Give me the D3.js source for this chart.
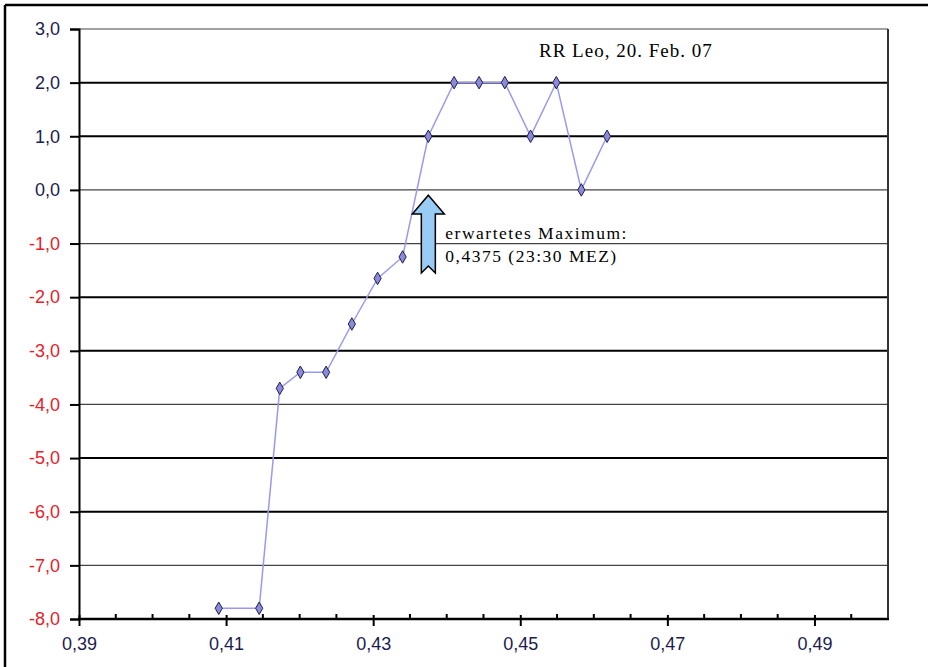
<!DOCTYPE html>
<html>
<head>
<meta charset="utf-8">
<script src="https://cdn.jsdelivr.net/npm/d3@7"></script>
<style>
  html, body { margin: 0; padding: 0; background: #ffffff; }
  svg { display: block; }
</style>
</head>
<body>
<svg id="chart" width="928" height="667"></svg>
<script>
// ---- data ----
const phase = [0.4090, 0.4145, 0.4173, 0.4201, 0.4236, 0.4271, 0.4306, 0.4340, 0.4375, 0.4410, 0.4444, 0.4479, 0.4514, 0.4549, 0.4583, 0.4618];
const magnitude = [-7.8, -7.8, -3.7, -3.4, -3.4, -2.5, -1.65, -1.25, 1.0, 2.0, 2.0, 2.0, 1.0, 2.0, 0.0, 1.0];
const yTicks = [3, 2, 1, 0, -1, -2, -3, -4, -5, -6, -7, -8];
const xMajorTicks = [0.39, 0.41, 0.43, 0.45, 0.47, 0.49];
const xMinorTicks = [0.395, 0.40, 0.405, 0.415, 0.42, 0.425, 0.435, 0.44, 0.445, 0.455, 0.46, 0.465, 0.475, 0.48, 0.485, 0.495];
const chartTitle = "RR Leo, 20. Feb. 07";
const annotationLines = ["erwartetes Maximum:", "0,4375 (23:30 MEZ)"];
const expectedMax = 0.4375;

const svg = d3.select("#chart");
const L = 79, R = 888, T = 29, B = 619;

const x = d3.scaleLinear().domain([0.39, 0.50]).range([L, R]);
const y = d3.scaleLinear().domain([-8, 3]).range([B, T]);
const fmt = (d, n) => d.toFixed(n).replace(".", ",");

// outer frame
svg.append("line").attr("x1", 5).attr("x2", 928).attr("y1", 5).attr("y2", 5)
  .attr("stroke", "#000").attr("stroke-width", 2.5);
svg.append("line").attr("x1", 5).attr("x2", 5).attr("y1", 5).attr("y2", 667)
  .attr("stroke", "#000").attr("stroke-width", 2.5);

// gridlines
const thick = new Set([2, 1, -2, -3, -5, -6]);
svg.append("g").selectAll("line").data(yTicks.filter(d => d > -8)).join("line")
  .attr("x1", L).attr("x2", R)
  .attr("y1", d => y(d)).attr("y2", d => y(d))
  .attr("stroke", d => thick.has(d) ? "#000" : "#444")
  .attr("stroke-width", d => thick.has(d) ? 2 : 1.2);

// right border
svg.append("line").attr("x1", R).attr("x2", R).attr("y1", T).attr("y2", B)
  .attr("stroke", "#333").attr("stroke-width", 2);

// y axis
const yAxis = d3.axisLeft(y).tickValues(yTicks).tickSize(9).tickPadding(10)
  .tickFormat(d => fmt(d, 1));
const gy = svg.append("g").attr("transform", `translate(${L},0)`).call(yAxis);
gy.select(".domain").attr("stroke", "#000").attr("stroke-width", 2);
gy.selectAll(".tick line").attr("stroke", "#000").attr("stroke-width", 2);
gy.selectAll(".tick text")
  .attr("font-family", "Liberation Sans, Arial, sans-serif")
  .attr("font-size", 18)
  .attr("fill", d => d < 0 ? "#e8202a" : "#1c1c50");

// x axis major
const xAxis = d3.axisBottom(x).tickValues(xMajorTicks).tickSize(7).tickPadding(11)
  .tickFormat(d => fmt(d, 2));
const gx = svg.append("g").attr("transform", `translate(0,${B})`).call(xAxis);
gx.select(".domain").remove();
gx.selectAll(".tick line").attr("stroke", "#000").attr("stroke-width", 2).attr("y1", -4);
gx.selectAll(".tick text")
  .attr("font-family", "Liberation Sans, Arial, sans-serif")
  .attr("font-size", 18)
  .attr("fill", "#1c1c50");
// minor ticks (inside)
svg.append("g").selectAll("line").data(xMinorTicks).join("line")
  .attr("x1", d => x(d)).attr("x2", d => x(d))
  .attr("y1", B - 5).attr("y2", B)
  .attr("stroke", "#000").attr("stroke-width", 2);
svg.append("line").attr("x1", L - 1).attr("x2", R + 1).attr("y1", B).attr("y2", B)
  .attr("stroke", "#000").attr("stroke-width", 2.5);

// data line
const pts = phase.map((p, i) => [p, magnitude[i]]);
svg.append("path").datum(pts)
  .attr("fill", "none").attr("stroke", "#9999f0").attr("stroke-width", 1.5)
  .attr("d", d3.line().x(d => x(d[0])).y(d => y(d[1])));

// markers
svg.append("g").selectAll("path").data(pts).join("path")
  .attr("transform", d => `translate(${x(d[0])},${y(d[1])})`)
  .attr("d", d3.symbol(d3.symbolDiamond, 45)())
  .attr("fill", "#8a8ad8").attr("stroke", "#1e1e50").attr("stroke-width", 1);

// annotation arrow (block arrow pointing up)
const ax = x(expectedMax);
const tipY = y(-0.1), headBase = y(-0.45), botY = y(-1.55), notch = 7;
const hw = 16, bw = 7;
const arrow = [
  [ax, tipY], [ax + hw, headBase], [ax + bw, headBase], [ax + bw, botY],
  [ax, botY - notch], [ax - bw, botY], [ax - bw, headBase], [ax - hw, headBase]
];
svg.append("path")
  .attr("d", d3.line()(arrow) + "Z")
  .attr("fill", "#99ccf5").attr("stroke", "#000").attr("stroke-width", 1.5);

// annotation text
const at = svg.append("text")
  .attr("font-family", "Liberation Serif, Times New Roman, serif")
  .attr("font-size", 17.5).attr("letter-spacing", 1.5).attr("fill", "#000");
at.selectAll("tspan").data(annotationLines).join("tspan")
  .attr("x", ax + 17).attr("y", (d, i) => 239 + i * 23)
  .text(d => d);

// title
svg.append("text")
  .attr("x", 539).attr("y", 57)
  .attr("font-family", "Liberation Serif, Times New Roman, serif")
  .attr("font-size", 19).attr("letter-spacing", 1).attr("fill", "#000")
  .text(chartTitle);
</script>
</body>
</html>
